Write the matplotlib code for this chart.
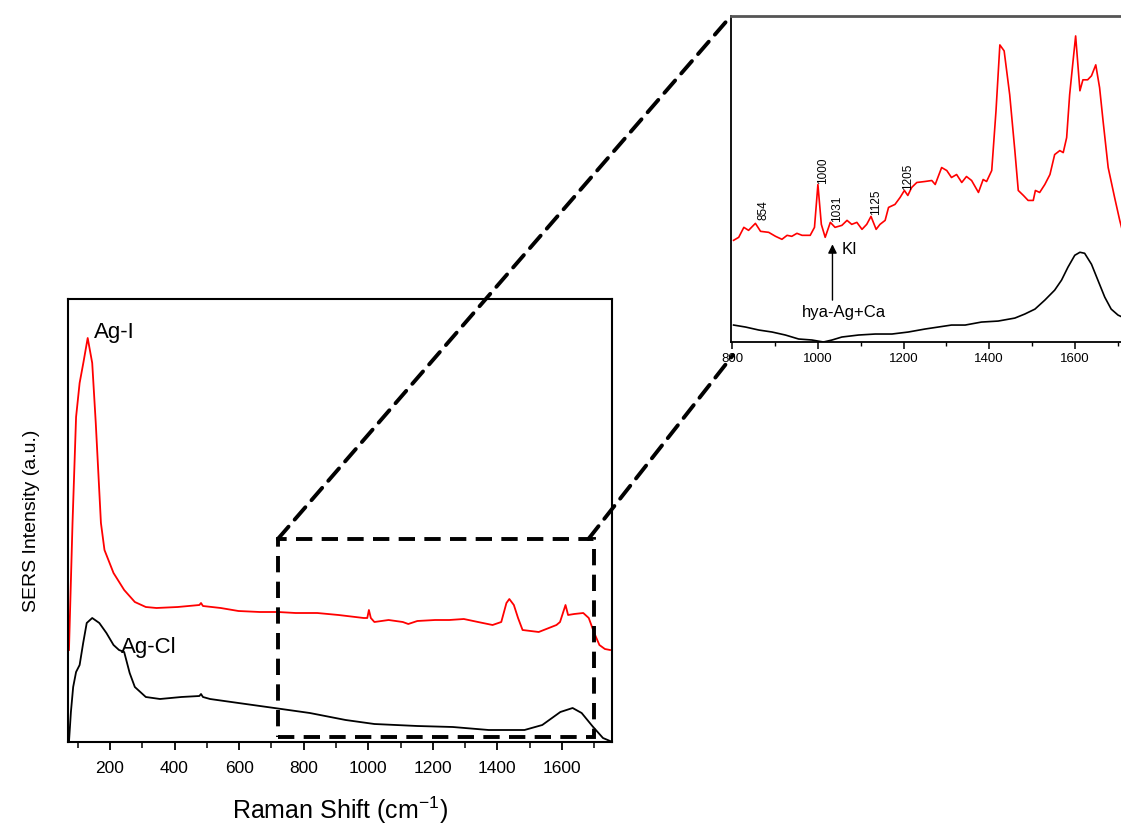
import numpy as np
import matplotlib
matplotlib.use("Agg")
import matplotlib.pyplot as plt
from matplotlib.patches import Rectangle, ConnectionPatch
from matplotlib.ticker import MultipleLocator

# ---- main panel spectra (Raman shift, intensity a.u.) ----
main_red_x = [73, 84, 95, 106, 118, 131, 145, 156, 172, 183, 211, 244, 277, 311, 344,
              410, 477, 482, 488, 543, 598, 664, 720, 775, 842, 908, 986, 997, 1002,
              1008, 1019, 1063, 1107, 1124, 1152, 1207, 1251, 1296, 1340, 1385, 1412,
              1428, 1437, 1451, 1464, 1478, 1528, 1583, 1594, 1611, 1619, 1638, 1666,
              1683, 1700, 1716, 1733, 1749]
main_red_y = [92, 219, 325, 359, 380, 404, 379, 319, 219, 192, 169, 152, 140, 135, 134,
              135, 137, 139, 136, 134, 131, 130, 130, 129, 129, 127, 124, 124, 132,
              124, 120, 122, 120, 118, 121, 122, 122, 123, 120, 117, 120,
              139, 143, 137, 124, 112, 110, 117, 120, 137, 127, 128, 129,
              124, 109, 97, 93, 92]

main_black_x = [73, 79, 86, 95, 106, 117, 128, 145, 167, 189, 211, 228, 244, 261, 277,
                311, 355, 421, 477, 482, 488, 510, 598, 709, 819, 930, 1019, 1152,
                1262, 1373, 1484, 1539, 1595, 1633, 1661, 1694, 1727, 1749]
main_black_y = [0, 30, 55, 70, 77, 99, 119, 124, 119, 109, 97, 92, 90, 69, 55,
                45, 43, 45, 46, 48, 45, 43, 39, 34, 29, 22, 18, 16,
                15, 12, 12, 17, 30, 34, 29, 16, 4, 1]

# ---- inset spectra ----
inset_red_x = [803, 815, 827, 838, 854, 866, 885, 901, 916, 928, 939, 951, 963, 982,
               992, 1000, 1008, 1017, 1029, 1040, 1056, 1068, 1079, 1091, 1103, 1114,
               1124, 1136, 1145, 1157, 1165, 1180, 1192, 1202, 1210, 1219, 1231, 1250,
               1266, 1274, 1289, 1301, 1312, 1324, 1336, 1347, 1359, 1375, 1386, 1394,
               1406, 1416, 1425, 1435, 1448, 1460, 1468, 1480, 1491, 1503, 1508, 1518,
               1530, 1542, 1553, 1565, 1573, 1581, 1588, 1596, 1602, 1612, 1619, 1630,
               1639, 1649, 1658, 1666, 1678, 1693, 1705, 1711]
inset_red_y = [102, 105, 115, 112, 119, 111, 110, 106, 103, 107, 106, 109, 107, 107,
               115, 158, 118, 105, 120, 115, 117, 122, 118, 120, 113, 118,
               126, 113, 118, 122, 135, 138, 145, 152, 147, 155, 160, 161,
               162, 158, 175, 172, 165, 168, 160, 166, 162, 150, 163, 161,
               172, 232, 298, 292, 248, 192, 152, 147, 142, 142, 152, 150,
               158, 168, 188, 192, 190, 205, 248, 282, 307, 252, 263, 263,
               267, 278, 255, 222, 175, 145, 122, 112]

inset_black_x = [803, 831, 862, 893, 924, 955, 986, 1013, 1033, 1056, 1095, 1134, 1173,
                 1211, 1250, 1281, 1312, 1344, 1382, 1421, 1460, 1483, 1507, 1530,
                 1553, 1569, 1584, 1600, 1612, 1623, 1639, 1654, 1670, 1685, 1701, 1711]
inset_black_y = [17, 15, 12, 10, 7, 3, 2, 0, 2, 5, 7, 8, 8,
                 10, 13, 15, 17, 17, 20, 21, 24, 28, 33, 42,
                 52, 62, 75, 87, 90, 89, 78, 62, 45, 33, 27, 25]

peak_labels = ["854", "1000", "1031", "1125", "1205"]
peak_label_x = [860, 998, 1031, 1122, 1197]
peak_label_y = [122, 158, 120, 127, 152]

plt.rcParams["font.family"] = ["Liberation Sans", "DejaVu Sans"]
plt.rcParams["mathtext.default"] = "regular"

W, H = 1121, 830
fig = plt.figure(figsize=(W / 100, H / 100), dpi=100)

# main axes
ax = fig.add_axes([68 / W, 1 - 742 / H, (612 - 68) / W, (742 - 299) / H])
ax.plot(main_red_x, main_red_y, color="#ff0000", lw=1.3)
ax.plot(main_black_x, main_black_y, color="black", lw=1.3)
ax.set_xlim(70, 1755)
ax.set_ylim(0, 443)
ax.set_yticks([])
ax.xaxis.set_minor_locator(MultipleLocator(100))
ax.set_xticks([200, 400, 600, 800, 1000, 1200, 1400, 1600])
ax.tick_params(axis="x", which="major", direction="out", length=6, width=1.3,
               labelsize=12.5, pad=8)
ax.tick_params(axis="x", which="minor", direction="out", length=4, width=1.1)
for s in ax.spines.values():
    s.set_linewidth(1.5)
ax.set_xlabel("Raman Shift (cm$^{-1}$)", fontsize=18, labelpad=13)
ax.set_ylabel("SERS Intensity (a.u.)", fontsize=14, labelpad=20)
ax.text(150, 410, "Ag-I", fontsize=16, ha="left", va="center")
ax.text(234, 95, "Ag-Cl", fontsize=16, ha="left", va="center")

dash = (0, (4.2, 2.4))
ax.add_patch(Rectangle((720, 5), 980, 198, fill=False, lw=2.8,
                       linestyle=dash, edgecolor="black", zorder=5,
                       clip_on=False))

# inset axes
ins = fig.add_axes([731 / W, 1 - 342 / H, 408 / W, (342 - 16) / H])
ins.plot(inset_red_x, inset_red_y, color="#ff0000", lw=1.2)
ins.plot(inset_black_x, inset_black_y, color="black", lw=1.2)
ins.set_xlim(797, 1750)
ins.set_ylim(0, 327)
ins.set_yticks([])
ins.xaxis.set_major_locator(MultipleLocator(200))
ins.xaxis.set_minor_locator(MultipleLocator(100))
ins.tick_params(axis="x", which="major", direction="out", length=5, width=1.1,
                labelsize=9.5, pad=3)
ins.tick_params(axis="x", which="minor", direction="out", length=3, width=1.0)
for s in ins.spines.values():
    s.set_linewidth(1.3)
ins.spines["top"].set_color("#555555")
ins.spines["top"].set_linewidth(2.0)

for lab, lx, ly in zip(peak_labels, peak_label_x, peak_label_y):
    ins.text(lx, ly, lab, rotation=90, fontsize=8.5, ha="left", va="bottom")
ins.text(1056, 93, "KI", fontsize=12, ha="left", va="center")
ins.text(1061, 30, "hya-Ag+Ca", fontsize=12, ha="center", va="center")
ins.annotate("", xy=(1034, 98), xytext=(1034, 42),
             arrowprops=dict(arrowstyle="-|>", color="black", lw=1.0,
                             mutation_scale=13, shrinkA=0, shrinkB=0))

# dashed connectors between zoom box and inset
for xa, xb in [((720, 203), (0.0, 1.0)), ((1682, 203), (0.005, -0.04))]:
    con = ConnectionPatch(xyA=xa, coordsA="data", axesA=ax,
                          xyB=xb, coordsB="axes fraction", axesB=ins,
                          color="black", lw=2.8, linestyle=dash)
    fig.add_artist(con)

fig.savefig("out.png", dpi=100)
